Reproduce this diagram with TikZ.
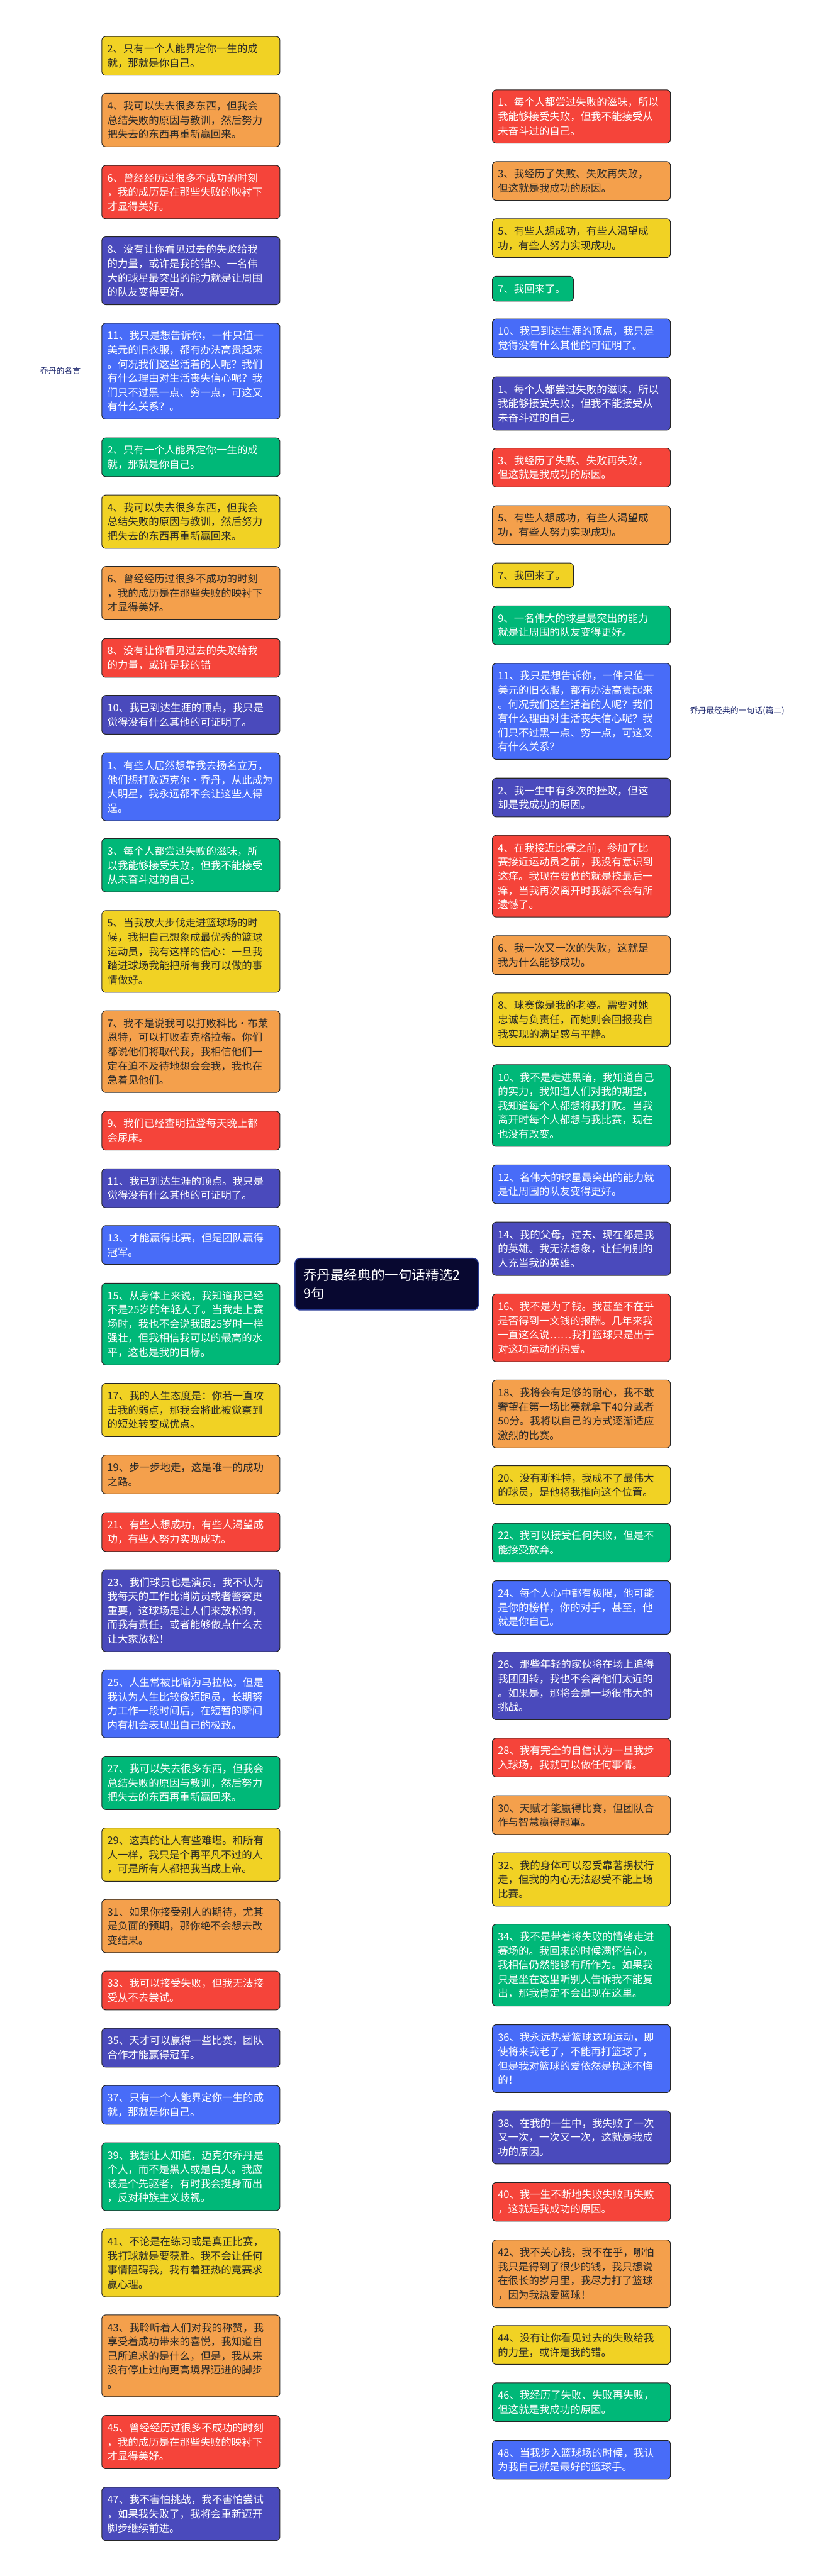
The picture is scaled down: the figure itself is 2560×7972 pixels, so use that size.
\documentclass[tikz,border=0pt]{standalone}
\usepackage{fontspec}
\setmainfont{Noto Sans CJK SC}
\usetikzlibrary{calc}
\pgfdeclarelayer{bg}
\pgfsetlayers{bg,main}
\definecolor{cRed}{RGB}{245,68,58}
\definecolor{cOrange}{RGB}{244,160,76}
\definecolor{cYellow}{RGB}{241,210,36}
\definecolor{cGreen}{RGB}{0,184,120}
\definecolor{cBlue}{RGB}{72,108,248}
\definecolor{cIndigo}{RGB}{74,74,188}
\definecolor{cNavy}{RGB}{8,8,48}
\definecolor{cDark}{RGB}{40,40,40}
\definecolor{cLabel}{RGB}{30,40,110}
\tikzset{
  x=0.5pt, y=-0.5pt,
  qbox/.style={draw=black!85, line width=1pt, rounded corners=6pt, anchor=north west,
    inner xsep=8.5pt, inner ysep=0pt, text width=258.5pt, align=left,
    font=\fontsize{16}{22}\selectfont},
  qnarrow/.style={text width=108.5pt},
  sR/.style={qbox, fill=cRed, text=white},
  sO/.style={qbox, fill=cOrange, text=cDark},
  sY/.style={qbox, fill=cYellow, text=cDark},
  sG/.style={qbox, fill=cGreen, text=white},
  sB/.style={qbox, fill=cBlue, text=white},
  sI/.style={qbox, fill=cIndigo, text=white},
  nlA/.style={minimum height=38.5pt},
  nlB/.style={minimum height=60pt},
  nlC/.style={minimum height=82.5pt},
  nlD/.style={minimum height=105pt},
  nlE/.style={minimum height=126.5pt},
  nlF/.style={minimum height=148.5pt},
  conn/.style={line width=1.8pt},
  lab/.style={anchor=west, text=cLabel, font=\fontsize{12.5}{15}\selectfont, inner ysep=2pt},
}
\newcommand\cnL[2]{\draw[conn,draw=#2] (hub) .. controls ($(hub)!0.6667!(hub|-#1.east)$) and ($(#1.east)!0.6667!(hub|-#1.east)$) .. (#1.east);}
\newcommand\cnR[2]{\draw[conn,draw=#2] (hub) .. controls ($(hub)!0.6667!(hub|-#1.west)$) and ($(#1.west)!0.6667!(hub|-#1.west)$) .. (#1.west);}
\begin{document}
\begin{tikzpicture}
\fill[white] (0,0) rectangle (2560,7972);
\useasboundingbox (0,0) rectangle (2560,7972);
\coordinate (hub) at (1196,3974);
% ---------- left column ----------
\node[sY,nlB] (L1) at (314,112) {2、只有一个人能界定你一生的成\\就，那就是你自己。};
\node[sO,nlC] (L2) at (314,288) {4、我可以失去很多东西，但我会\\总结失败的原因与教训，然后努力\\把失去的东西再重新赢回来。};
\node[sR,nlC] (L3) at (314,511) {6、曾经经历过很多不成功的时刻\\，我的成历是在那些失败的映衬下\\才显得美好。};
\node[sI,nlD] (L4) at (314,732) {8、没有让你看见过去的失败给我\\的力量，或许是我的错9、一名伟\\大的球星最突出的能力就是让周围\\的队友变得更好。};
\node[sB,nlF] (L5) at (314,999) {11、我只是想告诉你，一件只值一\\美元的旧衣服，都有办法高贵起来\\。何况我们这些活着的人呢？我们\\有什么理由对生活丧失信心呢？我\\们只不过黑一点、穷一点，可这又\\有什么关系？。};
\node[sG,nlB] (L6) at (314,1354) {2、只有一个人能界定你一生的成\\就，那就是你自己。};
\node[sY,nlC] (L7) at (314,1531) {4、我可以失去很多东西，但我会\\总结失败的原因与教训，然后努力\\把失去的东西再重新赢回来。};
\node[sO,nlC] (L8) at (314,1752) {6、曾经经历过很多不成功的时刻\\，我的成历是在那些失败的映衬下\\才显得美好。};
\node[sR,nlB] (L9) at (314,1975) {8、没有让你看见过去的失败给我\\的力量，或许是我的错};
\node[sI,nlB] (L10) at (314,2151) {10、我已到达生涯的顶点，我只是\\觉得没有什么其他的可证明了。};
\node[sB,nlD] (L11) at (314,2329) {1、有些人居然想靠我去扬名立万，\\他们想打败迈克尔·乔丹，从此成为\\大明星，我永远都不会让这些人得\\逞。};
\node[sG,nlC] (L12) at (314,2594) {3、每个人都尝过失败的滋味，所\\以我能够接受失败，但我不能接受\\从未奋斗过的自己。};
\node[sY,nlE] (L13) at (314,2817) {5、当我放大步伐走进篮球场的时\\候，我把自己想象成最优秀的篮球\\运动员，我有这样的信心：一旦我\\踏进球场我能把所有我可以做的事\\情做好。};
\node[sO,nlE] (L14) at (314,3127) {7、我不是说我可以打败科比·布莱\\恩特，可以打败麦克格拉蒂。你们\\都说他们将取代我，我相信他们一\\定在迫不及待地想会会我，我也在\\急着见他们。};
\node[sR,nlB] (L15) at (314,3438) {9、我们已经查明拉登每天晚上都\\会尿床。};
\node[sI,nlB] (L16) at (314,3616) {11、我已到达生涯的顶点。我只是\\觉得没有什么其他的可证明了。};
\node[sB,nlB] (L17) at (314,3792) {13、才能赢得比赛，但是团队赢得\\冠军。};
\node[sG,nlE] (L18) at (314,3970) {15、从身体上来说，我知道我已经\\不是25岁的年轻人了。当我走上赛\\场时，我也不会说我跟25岁时一样\\强壮，但我相信我可以的最高的水\\平，这也是我的目标。};
\node[sY,nlC] (L19) at (314,4280) {17、我的人生态度是：你若一直攻\\击我的弱点，那我会將此被觉察到\\的短处转变成优点。};
\node[sO,nlB] (L20) at (314,4502) {19、步一步地走，这是唯一的成功\\之路。};
\node[sR,nlB] (L21) at (314,4680) {21、有些人想成功，有些人渴望成\\功，有些人努力实现成功。};
\node[sI,nlE] (L22) at (314,4857) {23、我们球员也是演员，我不认为\\我每天的工作比消防员或者警察更\\重要，这球场是让人们来放松的，\\而我有责任，或者能够做点什么去\\让大家放松！};
\node[sB,nlD] (L23) at (314,5167) {25、人生常被比喻为马拉松，但是\\我认为人生比较像短跑员，长期努\\力工作一段时间后，在短暂的瞬间\\内有机会表现出自己的极致。};
\node[sG,nlC] (L24) at (314,5434) {27、我可以失去很多东西，但我会\\总结失败的原因与教训，然后努力\\把失去的东西再重新赢回来。};
\node[sY,nlC] (L25) at (314,5656) {29、这真的让人有些难堪。和所有\\人一样，我只是个再平凡不过的人\\，可是所有人都把我当成上帝。};
\node[sO,nlC] (L26) at (314,5877) {31、如果你接受别人的期待，尤其\\是负面的预期，那你绝不会想去改\\变结果。};
\node[sR,nlB] (L27) at (314,6099) {33、我可以接受失败，但我无法接\\受从不去尝试。};
\node[sI,nlB] (L28) at (314,6276) {35、天才可以赢得一些比赛，团队\\合作才能赢得冠军。};
\node[sB,nlB] (L29) at (314,6453) {37、只有一个人能界定你一生的成\\就，那就是你自己。};
\node[sG,nlD] (L30) at (314,6630) {39、我想让人知道，迈克尔乔丹是\\个人，而不是黑人或是白人。我应\\该是个先驱者，有时我会挺身而出\\，反对种族主义歧视。};
\node[sY,nlD] (L31) at (314,6897) {41、不论是在练习或是真正比赛，\\我打球就是要获胜。我不会让任何\\事情阻碍我，我有着狂热的竞赛求\\赢心理。};
\node[sO,nlE] (L32) at (314,7163) {43、我聆听着人们对我的称赞，我\\享受着成功带来的喜悦，我知道自\\己所追求的是什么，但是，我从来\\没有停止过向更高境界迈进的脚步\\。};
\node[sR,nlC] (L33) at (314,7474) {45、曾经经历过很多不成功的时刻\\，我的成历是在那些失败的映衬下\\才显得美好。};
\node[sI,nlC] (L34) at (314,7696) {47、我不害怕挑战，我不害怕尝试\\，如果我失败了，我将会重新迈开\\脚步继续前进。};
% ---------- right column ----------
\node[sR,nlC] (R1) at (1522,277) {1、每个人都尝过失败的滋味，所以\\我能够接受失败，但我不能接受从\\未奋斗过的自己。};
\node[sO,nlB] (R2) at (1522,499) {3、我经历了失败、失败再失败，\\但这就是我成功的原因。};
\node[sY,nlB] (R3) at (1522,676) {5、有些人想成功，有些人渴望成\\功，有些人努力实现成功。};
\node[sG,nlA,qnarrow] (R4) at (1522,854) {7、我回来了。};
\node[sB,nlB] (R5) at (1522,986) {10、我已到达生涯的顶点，我只是\\觉得没有什么其他的可证明了。};
\node[sI,nlC] (R6) at (1522,1165) {1、每个人都尝过失败的滋味，所以\\我能够接受失败，但我不能接受从\\未奋斗过的自己。};
\node[sR,nlB] (R7) at (1522,1386) {3、我经历了失败、失败再失败，\\但这就是我成功的原因。};
\node[sO,nlB] (R8) at (1522,1564) {5、有些人想成功，有些人渴望成\\功，有些人努力实现成功。};
\node[sY,nlA,qnarrow] (R9) at (1522,1741) {7、我回来了。};
\node[sG,nlB] (R10) at (1522,1874) {9、一名伟大的球星最突出的能力\\就是让周围的队友变得更好。};
\node[sB,nlF] (R11) at (1522,2052) {11、我只是想告诉你，一件只值一\\美元的旧衣服，都有办法高贵起来\\。何况我们这些活着的人呢？我们\\有什么理由对生活丧失信心呢？我\\们只不过黑一点、穷一点，可这又\\有什么关系？};
\node[sI,nlB] (R12) at (1522,2407) {2、我一生中有多次的挫败，但这\\却是我成功的原因。};
\node[sR,nlE] (R13) at (1522,2584) {4、在我接近比赛之前，参加了比\\赛接近运动员之前，我没有意识到\\这痒。我现在要做的就是挠最后一\\痒，当我再次离开时我就不会有所\\遗憾了。};
\node[sO,nlB] (R14) at (1522,2895) {6、我一次又一次的失败，这就是\\我为什么能够成功。};
\node[sY,nlC] (R15) at (1522,3072) {8、球赛像是我的老婆。需要对她\\忠诚与负责任，而她则会回报我自\\我实现的满足感与平静。};
\node[sG,nlE] (R16) at (1522,3294) {10、我不是走进黑暗，我知道自己\\的实力，我知道人们对我的期望，\\我知道每个人都想将我打败。当我\\离开时每个人都想与我比赛，现在\\也没有改变。};
\node[sB,nlB] (R17) at (1522,3604) {12、名伟大的球星最突出的能力就\\是让周围的队友变得更好。};
\node[sI,nlC] (R18) at (1522,3781) {14、我的父母，过去、现在都是我\\的英雄。我无法想象，让任何别的\\人充当我的英雄。};
\node[sR,nlD] (R19) at (1522,4003) {16、我不是为了钱。我甚至不在乎\\是否得到一文钱的报酬。几年来我\\一直这么说……我打篮球只是出于\\对这项运动的热爱。};
\node[sO,nlD] (R20) at (1522,4270) {18、我将会有足够的耐心，我不敢\\奢望在第一场比赛就拿下40分或者\\50分。我将以自己的方式逐渐适应\\激烈的比赛。};
\node[sY,nlB] (R21) at (1522,4535) {20、没有斯科特，我成不了最伟大\\的球员，是他将我推向这个位置。};
\node[sG,nlB] (R22) at (1522,4713) {22、我可以接受任何失败，但是不\\能接受放弃。};
\node[sB,nlC] (R23) at (1522,4891) {24、每个人心中都有极限，他可能\\是你的榜样，你的对手，甚至，他\\就是你自己。};
\node[sI,nlD] (R24) at (1522,5111) {26、那些年轻的家伙将在场上追得\\我团团转，我也不会离他们太近的\\。如果是，那将会是一场很伟大的\\挑战。};
\node[sR,nlB] (R25) at (1522,5378) {28、我有完全的自信认为一旦我步\\入球场，我就可以做任何事情。};
\node[sO,nlB] (R26) at (1522,5556) {30、天赋才能赢得比賽，但团队合\\作与智慧赢得冠軍。};
\node[sY,nlC] (R27) at (1522,5733) {32、我的身体可以忍受靠著拐杖行\\走，但我的内心无法忍受不能上场\\比賽。};
\node[sG,nlE] (R28) at (1522,5954) {34、我不是带着将失败的情绪走进\\赛场的。我回来的时候满怀信心，\\我相信仍然能够有所作为。如果我\\只是坐在这里听别人告诉我不能复\\出，那我肯定不会出现在这里。};
\node[sB,nlD] (R29) at (1522,6265) {36、我永远热爱篮球这项运动，即\\使将来我老了，不能再打篮球了，\\但是我对篮球的爱依然是执迷不悔\\的！};
\node[sI,nlC] (R30) at (1522,6531) {38、在我的一生中，我失败了一次\\又一次，一次又一次，这就是我成\\功的原因。};
\node[sR,nlB] (R31) at (1522,6753) {40、我一生不断地失败失败再失败\\，这就是我成功的原因。};
\node[sO,nlD] (R32) at (1522,6931) {42、我不关心钱，我不在乎，哪怕\\我只是得到了很少的钱，我只想说\\在很长的岁月里，我尽力打了篮球\\，因为我热爱篮球！};
\node[sY,nlB] (R33) at (1522,7196) {44、没有让你看见过去的失败给我\\的力量，或许是我的错。};
\node[sG,nlB] (R34) at (1522,7373) {46、我经历了失败、失败再失败，\\但这就是我成功的原因。};
\node[sB,nlB] (R35) at (1522,7551) {48、当我步入篮球场的时候，我认\\为我自己就是最好的篮球手。};
% ---------- root ----------
\node[fill=cNavy, draw=cBlue!50!cNavy, line width=1.5pt, rounded corners=8pt, text=white,
  font=\fontsize{21}{28}\selectfont, inner xsep=13pt, inner ysep=0pt, text width=257.5pt,
  align=left, minimum height=80pt] (root) at (hub) {乔丹最经典的一句话精选2\\9句};
% ---------- labels ----------
\node[lab, inner xsep=8pt] (lab1) at (108,1148) {乔丹的名言};
\node[lab, inner xsep=7pt] (lab2) at (2120,2200) {乔丹最经典的一句话(篇二)};
% ---------- connectors ----------
\begin{pgfonlayer}{bg}
\draw[line width=1.5pt, cBlue] (lab1.east) -- (L5.west);
\draw[line width=1.5pt, cBlue] (R11.east) -- (lab2.west);
\cnL{L1}{cYellow}\cnL{L2}{cOrange}\cnL{L3}{cRed}\cnL{L4}{cIndigo}\cnL{L5}{cBlue}
\cnL{L6}{cGreen}\cnL{L7}{cYellow}\cnL{L8}{cOrange}\cnL{L9}{cRed}\cnL{L10}{cIndigo}
\cnL{L11}{cBlue}\cnL{L12}{cGreen}\cnL{L13}{cYellow}\cnL{L14}{cOrange}\cnL{L15}{cRed}
\cnL{L16}{cIndigo}\cnL{L17}{cBlue}\cnL{L18}{cGreen}\cnL{L19}{cYellow}\cnL{L20}{cOrange}
\cnL{L21}{cRed}\cnL{L22}{cIndigo}\cnL{L23}{cBlue}\cnL{L24}{cGreen}\cnL{L25}{cYellow}
\cnL{L26}{cOrange}\cnL{L27}{cRed}\cnL{L28}{cIndigo}\cnL{L29}{cBlue}\cnL{L30}{cGreen}
\cnL{L31}{cYellow}\cnL{L32}{cOrange}\cnL{L33}{cRed}\cnL{L34}{cIndigo}
\cnR{R1}{cRed}\cnR{R2}{cOrange}\cnR{R3}{cYellow}\cnR{R4}{cGreen}\cnR{R5}{cBlue}
\cnR{R6}{cIndigo}\cnR{R7}{cRed}\cnR{R8}{cOrange}\cnR{R9}{cYellow}\cnR{R10}{cGreen}
\cnR{R11}{cBlue}\cnR{R12}{cIndigo}\cnR{R13}{cRed}\cnR{R14}{cOrange}\cnR{R15}{cYellow}
\cnR{R16}{cGreen}\cnR{R17}{cBlue}\cnR{R18}{cIndigo}\cnR{R19}{cRed}\cnR{R20}{cOrange}
\cnR{R21}{cYellow}\cnR{R22}{cGreen}\cnR{R23}{cBlue}\cnR{R24}{cIndigo}\cnR{R25}{cRed}
\cnR{R26}{cOrange}\cnR{R27}{cYellow}\cnR{R28}{cGreen}\cnR{R29}{cBlue}\cnR{R30}{cIndigo}
\cnR{R31}{cRed}\cnR{R32}{cOrange}\cnR{R33}{cYellow}\cnR{R34}{cGreen}\cnR{R35}{cBlue}
\end{pgfonlayer}
\end{tikzpicture}
\end{document}
